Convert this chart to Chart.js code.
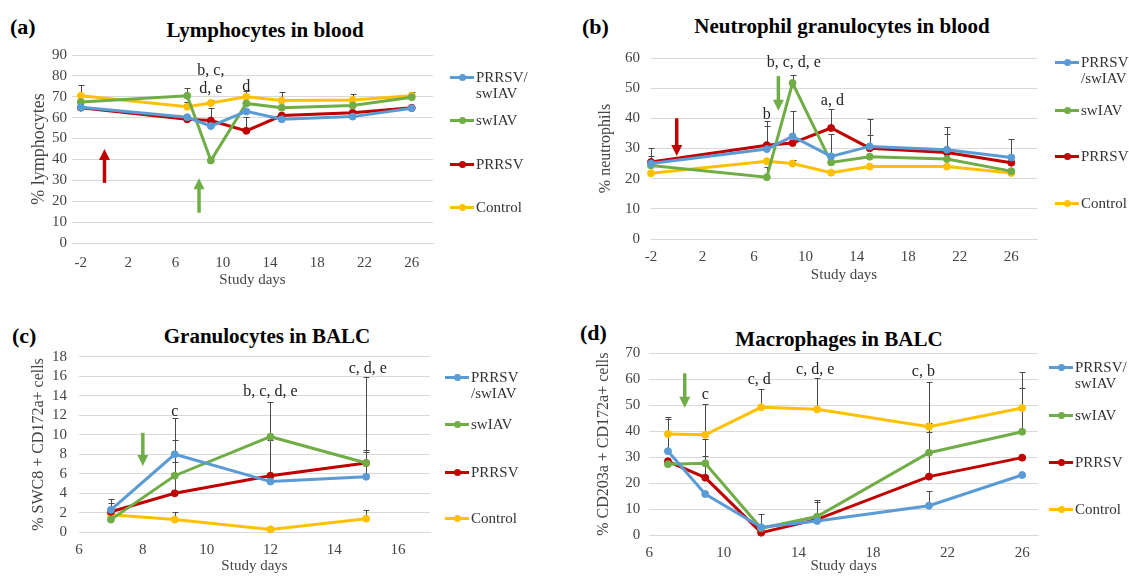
<!DOCTYPE html>
<html>
<head>
<meta charset="utf-8">
<script src="https://cdn.jsdelivr.net/npm/chart.js@4"></script>
<style>
  body { margin: 0; background: #fff; }
  #wrap { position: relative; width: 1129px; height: 577px; overflow: hidden; font-family: "Liberation Serif", "Times New Roman", serif; }
  canvas { position: absolute; }
  .tag { position: absolute; font-weight: bold; font-size: 22px; color: #000; }
  .ttl { position: absolute; font-weight: bold; font-size: 21px; color: #000; transform: translateX(-50%); white-space: nowrap; }
  .leg { position: absolute; font-size: 15px; line-height: 16px; color: #333; white-space: nowrap; }
  .leg .mk { position: absolute; left: 0; top: 7px; width: 24px; height: 3px; }
  .leg .mk i { position: absolute; left: 8.5px; top: -2px; width: 7px; height: 7px; border-radius: 50%; }
  .leg span { display: block; margin-left: 26px; }
</style>
</head>
<body>
<div id="wrap"></div>
<script>
// series colours / names
const groups = ['PRRSV/swIAV', 'swIAV', 'PRRSV', 'Control'];
const colors = ['#5B9BD5', '#70AD47', '#C00000', '#FFC000'];

// (a) lymphocytes in blood
const daysBlood = [-2, 7, 9, 12, 15, 21, 26];
const lymDual    = [65, 60.2, 56, 63, 59.2, 60.5, 64.5];
const lymSwiav   = [67.5, 70.5, 39.5, 66.8, 64.8, 65.8, 69.8];
const lymPrrsv   = [64.8, 59.2, 58.6, 53.7, 61, 62.3, 64.7];
const lymControl = [70.5, 65.2, 67, 70, 68.2, 68.4, 70.5];
const lymDualErr    = [null, null, null, null, null, null, null];
const lymSwiavErr   = [null, 3.6, 1.5, null, null, null, null];
const lymPrrsvErr   = [null, null, 6, 6.4, null, null, null];
const lymControlErr = [5.2, 2.5, 1.5, 2.6, 4, 2.7, 1.6];
const xTicksA = [-2, 2, 6, 10, 14, 18, 22, 26];

// (b) neutrophils in blood
const neuDual    = [25, 29.8, 34, 27.4, 30.7, 29.6, 27];
const neuSwiav   = [24.4, 20.5, 51.7, 25.4, 27.3, 26.5, 22.5];
const neuPrrsv   = [25.5, 31.1, 31.8, 36.8, 30.1, 28.7, 25.3];
const neuControl = [21.8, 25.8, 25, 22, 24, 24, 21.9];
const neuDualErr    = [null, 7.7, 8.5, 7.4, 9.2, 7.4, 6.2];
const neuSwiavErr   = [3, 3.5, 2.8, null, null, null, null];
const neuPrrsvErr   = [4.8, 8, null, 6.2, 4.4, 6.1, null];
const neuControlErr = [null, null, 1.2, null, null, null, null];
const xTicksB = [-2, 2, 6, 10, 14, 18, 22, 26];

// (c) granulocytes in BALC
const daysC = [7, 9, 12, 15];
const graDual    = [2.3, 8, 5.2, 5.7];
const graSwiav   = [1.3, 5.8, 9.8, 7.1];
const graPrrsv   = [2.1, 4, 5.8, 7.1];
const graControl = [1.8, 1.3, 0.3, 1.4];
const graDualErr    = [1.1, 3.7, null, 10.2];
const graSwiavErr   = [null, 3.7, 3.6, 1.1];
const graPrrsvErr   = [0.9, 3.2, 3.7, 1.3];
const graControlErr = [null, 0.8, null, 0.9];
const xTicksC = [6, 8, 10, 12, 14, 16];

// (d) macrophages in BALC
const daysD = [7, 9, 12, 15, 21, 26];
const macDual    = [32.3, 15.8, 3, 5.4, 11.3, 23.1];
const macSwiav   = [27.3, 27.6, 2.6, 7.1, 31.7, 39.8];
const macPrrsv   = [28.4, 22.1, 0.9, 6, 22.5, 29.8];
const macControl = [38.9, 38.6, 49.2, 48.4, 41.7, 48.9];
const macDualErr    = [12.2, null, 5, null, 5.8, null];
const macSwiavErr   = [null, 9.2, null, 6.4, 11.6, 16.7];
const macPrrsvErr   = [null, 8.4, null, 6.6, 17.3, null];
const macControlErr = [6.4, 11.8, 7, 11.9, 17.3, 13.9];
const xTicksD = [6, 10, 14, 18, 22, 26];

const wrap = document.getElementById('wrap');

function addDiv(cls, text, left, top) {
  const d = document.createElement('div');
  d.className = cls;
  d.textContent = text;
  d.style.left = left + 'px';
  d.style.top = top + 'px';
  wrap.appendChild(d);
  return d;
}

function addLegend(left, rows, labels) {
  labels.forEach((lab, i) => {
    const d = document.createElement('div');
    d.className = 'leg';
    d.style.left = left + 'px';
    d.style.top = (rows[i] - 8) + 'px';
    d.innerHTML = '<div class="mk" style="background:' + colors[i] + '"><i style="background:' + colors[i] + '"></i></div>' +
      lab.map(t => '<span>' + t + '</span>').join('');
    wrap.appendChild(d);
  });
}

const extras = {
  id: 'extras',
  beforeDatasetsDraw(chart) {
    const {ctx, scales: {x, y}} = chart;
    ctx.save();
    ctx.strokeStyle = '#4a4a4a';
    ctx.lineWidth = 1;
    chart.data.datasets.forEach(ds => {
      ds.err.forEach((e, i) => {
        if (e == null) return;
        const p = ds.data[i];
        const px = Math.round(x.getPixelForValue(p.x)) + 0.5;
        const y0 = y.getPixelForValue(p.y);
        const y1 = Math.round(y.getPixelForValue(p.y + e)) + 0.5;
        ctx.beginPath();
        ctx.moveTo(px, y0); ctx.lineTo(px, y1);
        ctx.moveTo(px - 3, y1); ctx.lineTo(px + 3, y1);
        ctx.stroke();
      });
    });
    ctx.restore();
  },
  afterDatasetsDraw(chart) {
    const {ctx, scales: {x, y}} = chart;
    const o = chart.options.plugins.extras;
    ctx.save();
    (o.arrows || []).forEach(a => {
      const px = x.getPixelForValue(a.day);
      const y0 = y.getPixelForValue(a.from);
      const y1 = y.getPixelForValue(a.to);
      const dir = y1 > y0 ? 1 : -1;
      ctx.strokeStyle = a.color; ctx.fillStyle = a.color; ctx.lineWidth = 3.5;
      ctx.beginPath(); ctx.moveTo(px, y0); ctx.lineTo(px, y1 - dir * 9); ctx.stroke();
      ctx.beginPath();
      ctx.moveTo(px - 5.5, y1 - dir * 11); ctx.lineTo(px + 5.5, y1 - dir * 11); ctx.lineTo(px, y1);
      ctx.closePath(); ctx.fill();
    });
    ctx.fillStyle = '#222';
    ctx.font = '16px "Liberation Serif", serif';
    ctx.textAlign = 'center';
    ctx.textBaseline = 'middle';
    (o.notes || []).forEach(n => {
      ctx.fillText(n.text, x.getPixelForValue(n.day), y.getPixelForValue(n.value));
    });
    ctx.restore();
  }
};

function makePanel(p) {
  const c = document.createElement('canvas');
  c.style.left = p.left + 'px';
  c.style.top = p.top + 'px';
  c.style.width = p.width + 'px';
  c.style.height = p.height + 'px';
  c.width = p.width; c.height = p.height;
  wrap.appendChild(c);
  const tickFont = { family: '"Liberation Serif", serif', size: 15 };
  new Chart(c, {
    type: 'line',
    data: {
      datasets: p.series.map((vals, i) => ({
        label: groups[i],
        data: vals.map((v, j) => ({ x: p.days[j], y: v })),
        err: p.errs[i],
        borderColor: colors[i],
        backgroundColor: colors[i],
        borderWidth: 3,
        pointRadius: 3.5,
        pointBorderWidth: 1,
        pointHoverRadius: 3.5,
        tension: 0,
        clip: false
      }))
    },
    options: {
      responsive: false,
      animation: false,
      layout: { padding: { left: 0, top: p.area.top, right: p.width - p.area.right, bottom: 0 } },
      plugins: {
        legend: { display: false },
        tooltip: { enabled: false },
        extras: { notes: p.notes, arrows: p.arrows }
      },
      scales: {
        x: {
          type: 'linear',
          min: p.xMin, max: p.xMax,
          afterBuildTicks: s => { s.ticks = p.xTicks.map(v => ({ value: v })); },
          afterFit: s => { s.height = p.height - p.area.bottom; },
          grid: { display: false, drawTicks: false },
          border: { display: true, color: '#d9d9d9' },
          ticks: { font: tickFont, color: '#444', padding: p.xPad, maxRotation: 0, autoSkip: false },
          title: { display: true, text: 'Study days', font: { family: '"Liberation Serif", serif', size: 15 }, color: '#444', padding: { top: 0, bottom: p.xTitlePad } }
        },
        y: {
          min: 0, max: p.yMax,
          ticks: { stepSize: p.yStep, font: tickFont, color: '#444', padding: p.yPad, autoSkip: false },
          afterFit: s => { s.width = p.area.left; },
          grid: { color: '#d9d9d9', drawTicks: false },
          border: { display: false },
          title: { display: true, text: p.yTitle, font: { family: '"Liberation Serif", serif', size: p.yTitleSize }, color: '#444', padding: { top: p.yTitlePad, bottom: 0 } }
        }
      }
    },
    plugins: [extras]
  });
}

// (a)
addDiv('tag', '(a)', 10, 14);
addDiv('ttl', 'Lymphocytes in blood', 265, 18);
makePanel({
  left: 0, top: 0, width: 560, height: 290,
  area: { left: 72, right: 433, top: 55, bottom: 243 },
  days: daysBlood, xMin: -2.75, xMax: 27.8, xTicks: xTicksA, yMax: 90, yStep: 10,
  series: [lymDual, lymSwiav, lymPrrsv, lymControl],
  errs: [lymDualErr, lymSwiavErr, lymPrrsvErr, lymControlErr],
  yTitle: '% lymphocytes', yTitleSize: 18, xPad: 11, yPad: 5, yTitlePad: 28, xTitlePad: 1,
  notes: [{ day: 9, value: 82.4, text: 'b, c,' }, { day: 9, value: 73.6, text: 'd, e' }, { day: 12, value: 75, text: 'd' }],
  arrows: [{ day: 0, from: 28.8, to: 45, color: '#C00000' }, { day: 8, from: 14.5, to: 31, color: '#70AD47' }]
});
addLegend(450, [77, 120, 164, 207], [['PRRSV/', 'swIAV'], ['swIAV'], ['PRRSV'], ['Control']]);

// (b)
addDiv('tag', '(b)', 582, 14);
addDiv('ttl', 'Neutrophil granulocytes in blood', 842, 14);
makePanel({
  left: 560, top: 0, width: 569, height: 290,
  area: { left: 91, right: 477, top: 58, bottom: 239 },
  days: daysBlood, xMin: -2, xMax: 28, xTicks: xTicksB, yMax: 60, yStep: 10,
  series: [neuDual, neuSwiav, neuPrrsv, neuControl],
  errs: [neuDualErr, neuSwiavErr, neuPrrsvErr, neuControlErr],
  yTitle: '% neutrophils', yTitleSize: 16, xPad: 9, yPad: 11, yTitlePad: 36, xTitlePad: 6,
  notes: [{ day: 9.1, value: 58.4, text: 'b, c, d, e' }, { day: 7, value: 41.2, text: 'b' }, { day: 12.1, value: 45.8, text: 'a, d' }],
  arrows: [{ day: 0, from: 40, to: 27.5, color: '#C00000' }, { day: 7.9, from: 54, to: 42.5, color: '#70AD47' }]
});
addLegend(1055, [62, 110, 156, 203], [['PRRSV', '/swIAV'], ['swIAV'], ['PRRSV'], ['Control']]);

// (c)
addDiv('tag', '(c)', 12, 323);
addDiv('ttl', 'Granulocytes in BALC', 267, 324);
makePanel({
  left: 0, top: 290, width: 560, height: 287,
  area: { left: 79, right: 430, top: 66.7, bottom: 242.3 },
  days: daysC, xMin: 6, xMax: 17, xTicks: xTicksC, yMax: 18, yStep: 2,
  series: [graDual, graSwiav, graPrrsv, graControl],
  errs: [graDualErr, graSwiavErr, graPrrsvErr, graControlErr],
  yTitle: '% SWC8 + CD172a+ cells', yTitleSize: 16, xPad: 9, yPad: 12, yTitlePad: 29, xTitlePad: 2,
  notes: [{ day: 9, value: 12.4, text: 'c' }, { day: 12, value: 14.4, text: 'b, c, d, e' }, { day: 15.05, value: 16.8, text: 'c, d, e' }],
  arrows: [{ day: 8, from: 10.2, to: 6.8, color: '#70AD47' }]
});
addLegend(445, [377, 424, 472, 518], [['PRRSV', '/swIAV'], ['swIAV'], ['PRRSV'], ['Control']]);

// (d)
addDiv('tag', '(d)', 580, 320);
addDiv('ttl', 'Macrophages in BALC', 839, 327);
makePanel({
  left: 560, top: 290, width: 569, height: 287,
  area: { left: 89.3, right: 478, top: 63.3, bottom: 245 },
  days: daysD, xMin: 6, xMax: 26.85, xTicks: xTicksD, yMax: 70, yStep: 10,
  series: [macDual, macSwiav, macPrrsv, macControl],
  errs: [macDualErr, macSwiavErr, macPrrsvErr, macControlErr],
  yTitle: '% CD203a + CD172a+ cells', yTitleSize: 16, xPad: 9, yPad: 9, yTitlePad: 34, xTitlePad: 2,
  notes: [{ day: 9, value: 53.9, text: 'c' }, { day: 11.9, value: 59.7, text: 'c, d' }, { day: 14.9, value: 63.5, text: 'c, d, e' }, { day: 20.7, value: 62.9, text: 'c, b' }],
  arrows: [{ day: 7.9, from: 62.3, to: 49, color: '#70AD47' }]
});
addLegend(1049, [367, 415, 462, 509], [['PRRSV/', 'swIAV'], ['swIAV'], ['PRRSV'], ['Control']]);
</script>
</body>
</html>
